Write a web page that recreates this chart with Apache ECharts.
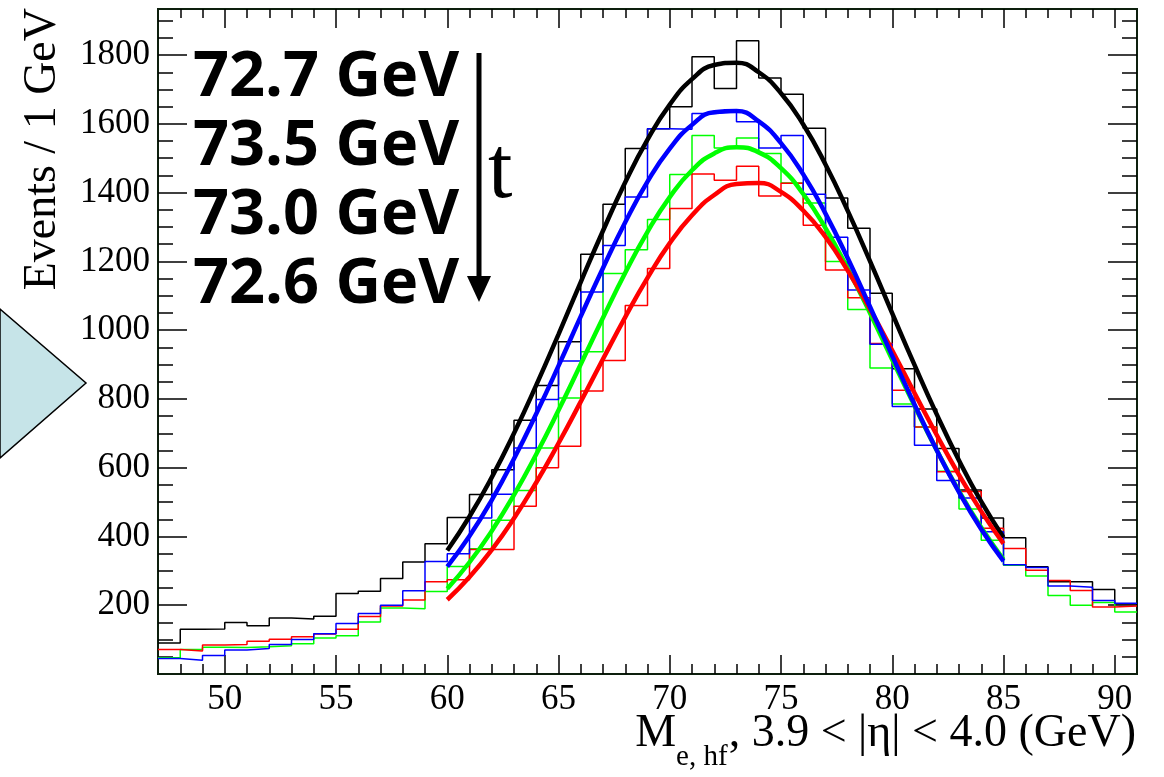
<!DOCTYPE html>
<html>
<head>
<meta charset="utf-8">
<script src="https://cdn.jsdelivr.net/npm/echarts@6/dist/echarts.min.js"></script>
<style>
html,body{margin:0;padding:0;background:#fff;}
#chart{width:1164px;height:777px;}
</style>
</head>
<body>
<div id="chart"></div>
<script>
// ---- data ----
const binLow = [47,48,49,50,51,52,53,54,55,56,57,58,59,60,61,62,63,64,65,66,67,68,69,70,71,72,73,74,75,76,77,78,79,80,81,82,83,84,85,86,87,88,89,90];
const binWidth = 1;
const histBlack = [90,130,131,150,140,163,160,168,234,241,278,326,379,455,522,594,738,839,966,1221,1366,1528,1586,1650,1795,1703,1842,1733,1686,1587,1384,1296,1107,888,771,656,535,454,396,312,268,268,246,204];
const histBlue  = [45,40,54,70,74,86,100,117,147,176,200,242,327,350,454,523,657,798,910,1111,1246,1387,1586,1584,1630,1635,1606,1530,1566,1395,1270,1117,959,778,665,563,512,414,318,310,256,252,214,206];
const histGreen = [47,71,78,77,79,82,88,105,111,151,192,190,240,313,364,447,534,657,803,937,1165,1234,1322,1453,1566,1530,1559,1514,1428,1370,1200,1060,890,785,718,590,480,389,316,285,228,200,208,180];
const histRed   = [71,67,84,86,95,101,108,116,130,167,198,215,268,274,362,362,488,600,662,823,912,1072,1179,1354,1454,1436,1477,1390,1427,1305,1175,1094,961,825,718,588,531,424,365,302,272,243,195,198];

const fitX     = [60,61,62,63,64,65,66,67,68,69,70,71,72,73,74,75,76,77,78,79,80,81,82,83,84,85];
const fitBlack = [359,458,572,700,840,988,1140,1289,1430,1554,1656,1730,1771,1778,1750,1689,1598,1482,1347,1201,1049,899,755,621,501,397];
const fitBlue  = [312,401,506,626,757,896,1040,1181,1314,1432,1528,1597,1634,1637,1607,1544,1453,1339,1209,1068,925,784,651,529,421,328];
const fitGreen = [248,325,416,521,639,767,901,1036,1167,1286,1387,1465,1514,1532,1517,1471,1396,1297,1179,1050,914,780,651,532,426,333];
const fitRed   = [216,282,361,453,557,671,792,916,1038,1152,1253,1334,1393,1425,1428,1402,1348,1271,1173,1061,941,817,695,579,473,379];

const fitLabels = ['72.7 GeV','73.5 GeV','73.0 GeV','72.6 GeV'];
const xMajorTicks = [50,55,60,65,70,75,80,85,90];
const xMinorTicks = [48,49,51,52,53,54,56,57,58,59,61,62,63,64,66,67,68,69,71,72,73,74,76,77,78,79,81,82,83,84,86,87,88,89];
const yMajorTicks = [200,400,600,800,1000,1200,1400,1600,1800];
const yMinorTicks = [50,100,150,250,300,350,450,500,550,650,700,750,850,900,950,1050,1100,1150,1250,1300,1350,1450,1500,1550,1650,1700,1750,1850,1900];
const xRange = [47, 91];
const yRange = [0, 1934];
const yTitle = 'Events / 1 GeV';
const xTitleMain = 'M';
const xTitleSub = 'e, hf';
const xTitleRest = ', 3.9 < |η| < 4.0 (GeV)';

// ---- build ----
function histData(vals){
  const d = binLow.map((x,i)=>[x, vals[i]]);
  d.push([binLow[binLow.length-1]+binWidth, vals[vals.length-1]]);
  return d;
}
function fitData(vals){ return fitX.map((x,i)=>[x, vals[i]]); }

const serif = 'Liberation Serif';
const frameColor = '#0d1f0d';
const plain = v => String(v);

function xAx(pos, ticks, len, labels){
  return {
    type:'value', min:xRange[0], max:xRange[1], position:pos,
    axisLine:{show:true, onZero:false, lineStyle:{color:frameColor, width:2}},
    axisTick:{show:true, inside:true, length:len, customValues:ticks, lineStyle:{color:'#000', width:1.5}},
    axisLabel: labels ? {show:true, customValues:ticks, formatter:plain, fontFamily:serif, fontSize:35, color:'#000', margin:8} : {show:false},
    splitLine:{show:false}, minorTick:{show:false}
  };
}
function yAx(pos, ticks, len, labels){
  return {
    type:'value', min:yRange[0], max:yRange[1], position:pos,
    axisLine:{show:true, onZero:false, lineStyle:{color:frameColor, width:2}},
    axisTick:{show:true, inside:true, length:len, customValues:ticks, lineStyle:{color:'#000', width:1.5}},
    axisLabel: labels ? {show:true, customValues:ticks, formatter:plain, fontFamily:serif, fontSize:35, color:'#000', margin:8} : {show:false},
    splitLine:{show:false}, minorTick:{show:false}
  };
}

function histSeries(vals, color){
  return {type:'line', xAxisIndex:0, yAxisIndex:0, step:'end', showSymbol:false, symbol:'none',
    data:histData(vals), lineStyle:{color:color, width:1.5}, animation:false, z:2, silent:true};
}
function fitSeries(vals, color, z){
  return {type:'line', xAxisIndex:0, yAxisIndex:0, smooth:true, showSymbol:false, symbol:'none',
    data:fitData(vals), lineStyle:{color:color, width:4.5}, animation:false, z:z, silent:true};
}

// measure title pieces for placement
const cv = document.createElement('canvas').getContext('2d');
cv.font = '46px "Liberation Serif"';
const wRest = cv.measureText(xTitleRest).width;
cv.font = '29px "Liberation Serif"';
const wSub = cv.measureText(xTitleSub).width;
const xRight = 1136;
const xRestStart = xRight - wRest;
const xSubStart = xRestStart - wSub - 1;

const labelStyle = {fontFamily:'Open Sans', fontWeight:'bold', fontSize:63, fill:'#000', verticalAlign:'top'};

const option = {
  animation:false,
  backgroundColor:'#fff',
  grid:{left:158, top:9, right:27, bottom:103, containLabel:false, outerBoundsMode:'none'},
  xAxis:[
    xAx('bottom', xMajorTicks, 19, true),
    xAx('bottom', xMinorTicks, 10, false),
    xAx('top', xMajorTicks, 19, false),
    xAx('top', xMinorTicks, 9, false)
  ],
  yAxis:[
    yAx('left', yMajorTicks, 29, true),
    yAx('left', yMinorTicks, 15, false),
    yAx('right', yMajorTicks, 29, false),
    yAx('right', yMinorTicks, 15, false)
  ],
  series:[
    histSeries(histBlack,'#000000'),
    histSeries(histGreen,'#00ff00'),
    histSeries(histRed,'#ff0000'),
    histSeries(histBlue,'#0000ff'),
    fitSeries(fitBlack,'#000000',5),
    fitSeries(fitGreen,'#00ff00',6),
    fitSeries(fitRed,'#ff0000',7),
    fitSeries(fitBlue,'#0000ff',8)
  ],
  graphic:[
    {type:'polygon', shape:{points:[[0,309],[86,383],[0,458]]}, style:{fill:'#c6e4e8', stroke:'#000', lineWidth:1.5}, z:1},
    {type:'text', x:43, y:8, rotation:Math.PI/2, style:{text:yTitle, fontFamily:serif, fontSize:46, fill:'#000', align:'right', verticalAlign:'middle'}},
    {type:'text', x:xSubStart, y:711, style:{text:xTitleMain, fontFamily:serif, fontSize:46, fill:'#000', align:'right', verticalAlign:'top'}},
    {type:'text', x:xSubStart, y:743, style:{text:xTitleSub, fontFamily:serif, fontSize:29, fill:'#000', align:'left', verticalAlign:'top'}},
    {type:'text', x:xRestStart, y:711, style:{text:xTitleRest, fontFamily:serif, fontSize:46, fill:'#000', align:'left', verticalAlign:'top'}},
    {type:'text', x:193, y:47, style:Object.assign({text:fitLabels[0]}, labelStyle)},
    {type:'text', x:193, y:116, style:Object.assign({text:fitLabels[1]}, labelStyle)},
    {type:'text', x:193, y:185, style:Object.assign({text:fitLabels[2]}, labelStyle)},
    {type:'text', x:193, y:254, style:Object.assign({text:fitLabels[3]}, labelStyle)},
    {type:'line', shape:{x1:479, y1:53, x2:479, y2:282}, style:{stroke:'#000', lineWidth:5}},
    {type:'polygon', shape:{points:[[467,276],[491,276],[479,302]]}, style:{fill:'#000'}},
    {type:'text', x:488, y:130, style:{text:'t', fontFamily:serif, fontSize:88, fill:'#000', align:'left', verticalAlign:'top'}}
  ]
};

const chart = echarts.init(document.getElementById('chart'), null, {renderer:'canvas'});
chart.setOption(option);
</script>
</body>
</html>
